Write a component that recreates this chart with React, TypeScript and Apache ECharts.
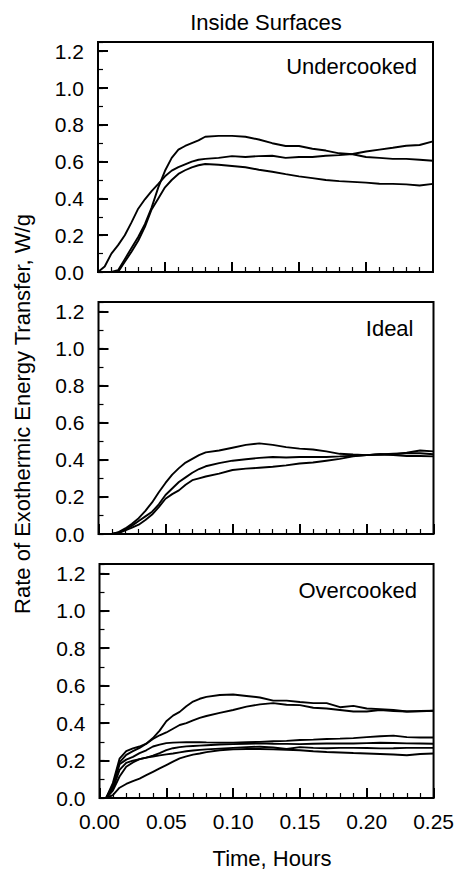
import React, { useEffect, useRef } from "react";
import * as echarts from "echarts";

// Time axis (hours) shared by all curves
const T = [0, 0.005, 0.01, 0.015, 0.02, 0.025, 0.03, 0.035, 0.04, 0.045, 0.05, 0.055, 0.06, 0.065, 0.07, 0.075, 0.08, 0.09, 0.1, 0.11, 0.12, 0.13, 0.14, 0.15, 0.16, 0.17, 0.18, 0.19, 0.2, 0.21, 0.22, 0.23, 0.24, 0.25];

// Undercooked
const U1 = [0, 0, 0, 0.01, 0.07, 0.13, 0.19, 0.26, 0.35, 0.46, 0.55, 0.62, 0.665, 0.685, 0.7, 0.715, 0.735, 0.74, 0.74, 0.735, 0.72, 0.7, 0.685, 0.685, 0.67, 0.66, 0.645, 0.64, 0.625, 0.62, 0.615, 0.615, 0.61, 0.605];
const U2 = [0, 0.03, 0.1, 0.146, 0.2, 0.27, 0.344, 0.395, 0.44, 0.479, 0.52, 0.551, 0.57, 0.585, 0.6, 0.61, 0.615, 0.62, 0.63, 0.625, 0.63, 0.632, 0.62, 0.625, 0.625, 0.632, 0.635, 0.641, 0.655, 0.665, 0.675, 0.686, 0.69, 0.71];
const U3 = [0, 0, 0, 0, 0.056, 0.11, 0.17, 0.245, 0.34, 0.4, 0.46, 0.5, 0.533, 0.553, 0.569, 0.58, 0.587, 0.583, 0.576, 0.569, 0.556, 0.545, 0.532, 0.52, 0.51, 0.5, 0.494, 0.49, 0.486, 0.48, 0.479, 0.476, 0.47, 0.479];

// Ideal
const I1 = [0, 0, 0, 0.01, 0.03, 0.055, 0.085, 0.125, 0.17, 0.225, 0.275, 0.32, 0.355, 0.385, 0.405, 0.425, 0.44, 0.45, 0.465, 0.48, 0.488, 0.48, 0.468, 0.46, 0.455, 0.445, 0.432, 0.428, 0.425, 0.43, 0.428, 0.438, 0.45, 0.445];
const I2 = [0, 0, 0, 0.008, 0.025, 0.045, 0.07, 0.095, 0.12, 0.16, 0.21, 0.245, 0.28, 0.305, 0.33, 0.35, 0.365, 0.382, 0.395, 0.403, 0.41, 0.415, 0.412, 0.415, 0.415, 0.415, 0.418, 0.422, 0.425, 0.43, 0.425, 0.42, 0.42, 0.418];
const I3 = [0, 0, 0, 0.005, 0.02, 0.035, 0.05, 0.075, 0.105, 0.145, 0.19, 0.215, 0.235, 0.265, 0.29, 0.3, 0.31, 0.325, 0.345, 0.352, 0.357, 0.362, 0.37, 0.38, 0.385, 0.395, 0.405, 0.418, 0.425, 0.428, 0.432, 0.435, 0.435, 0.43];

// Overcooked
const O1 = [0, 0, 0.08, 0.21, 0.25, 0.265, 0.275, 0.29, 0.32, 0.36, 0.41, 0.44, 0.46, 0.49, 0.515, 0.53, 0.54, 0.55, 0.553, 0.545, 0.537, 0.52, 0.52, 0.513, 0.507, 0.507, 0.485, 0.492, 0.478, 0.475, 0.47, 0.462, 0.465, 0.466];
const O2 = [0, 0, 0.07, 0.19, 0.23, 0.25, 0.268, 0.29, 0.315, 0.335, 0.35, 0.37, 0.39, 0.4, 0.415, 0.428, 0.438, 0.455, 0.47, 0.488, 0.5, 0.507, 0.498, 0.496, 0.482, 0.478, 0.47, 0.462, 0.462, 0.47, 0.465, 0.462, 0.463, 0.466];
const L1 = [0, 0, 0.06, 0.18, 0.205, 0.22, 0.24, 0.255, 0.275, 0.285, 0.293, 0.296, 0.297, 0.298, 0.298, 0.298, 0.297, 0.296, 0.296, 0.298, 0.3, 0.303, 0.305, 0.31, 0.312, 0.315, 0.317, 0.32, 0.325, 0.33, 0.333, 0.325, 0.323, 0.323];
const L2 = [0, 0, 0.05, 0.15, 0.188, 0.2, 0.208, 0.216, 0.226, 0.24, 0.256, 0.266, 0.272, 0.276, 0.278, 0.28, 0.282, 0.286, 0.288, 0.29, 0.292, 0.29, 0.289, 0.288, 0.29, 0.291, 0.292, 0.291, 0.293, 0.295, 0.294, 0.292, 0.291, 0.29];
const L3 = [0, 0, 0.04, 0.115, 0.167, 0.19, 0.208, 0.216, 0.222, 0.228, 0.233, 0.238, 0.244, 0.25, 0.254, 0.257, 0.26, 0.264, 0.268, 0.272, 0.274, 0.27, 0.262, 0.272, 0.268, 0.266, 0.268, 0.268, 0.267, 0.265, 0.266, 0.268, 0.268, 0.268];
const L4 = [0, 0, 0.015, 0.055, 0.075, 0.09, 0.104, 0.122, 0.14, 0.158, 0.176, 0.194, 0.212, 0.222, 0.232, 0.238, 0.245, 0.255, 0.26, 0.262, 0.262, 0.26, 0.258, 0.255, 0.25, 0.246, 0.243, 0.24, 0.238, 0.235, 0.232, 0.228, 0.235, 0.238];

const PANEL_LABELS = ["Undercooked", "Ideal", "Overcooked"];
const PANEL_SERIES = [
  [U1, U2, U3],
  [I1, I2, I3],
  [O1, O2, L1, L2, L3, L4],
];

const TITLE = "Inside Surfaces";
const X_TITLE = "Time, Hours";
const Y_TITLE = "Rate of Exothermic Energy Transfer, W/g";

const FONT = "'Liberation Sans', Arial, Helvetica, sans-serif";

const GRIDS = [
  { left: 98, top: 42, width: 335, height: 230 },
  { left: 98.5, top: 302, width: 335, height: 232 },
  { left: 99.5, top: 564, width: 335, height: 234 },
];
const LABEL_POS = [
  { x: 417, y: 66 },
  { x: 413.5, y: 328 },
  { x: 417, y: 590 },
];

export default function App() {
  const ref = useRef<HTMLDivElement>(null);

  useEffect(() => {
    if (!ref.current) return;
    const chart = echarts.init(ref.current, undefined, { renderer: "svg" });

    const grid = GRIDS.map((g) => ({
      ...g,
      show: true,
      borderColor: "#000",
      borderWidth: 2,
      backgroundColor: "transparent",
      containLabel: false,
    }));

    const xAxis = GRIDS.map((_, i) => ({
      type: "value",
      gridIndex: i,
      min: 0,
      max: 0.25,
      interval: 0.05,
      axisLine: { show: false },
      axisTick: { show: true, inside: true, length: 10, lineStyle: { color: "#000", width: 2 } },
      minorTick: { show: true, splitNumber: 5, length: 5, lineStyle: { color: "#000", width: 1.2 } },
      splitLine: { show: false },
      minorSplitLine: { show: false },
      axisLabel: {
        show: i === 2,
        formatter: (v: number) => v.toFixed(2),
        color: "#000",
        fontSize: 21,
        fontFamily: FONT,
        margin: 13,
      },
    }));

    const yAxis: any[] = [];
    GRIDS.forEach((_, i) => {
      yAxis.push({
        type: "value",
        gridIndex: i,
        min: 0,
        max: 1.25,
        interval: 0.1,
        position: "left",
        axisLine: { show: false },
        axisTick: { show: true, inside: true, length: 5, lineStyle: { color: "#000", width: 1.2 } },
        splitLine: { show: false },
        axisLabel: {
          show: true,
          formatter: (v: number) => {
            const k = Math.round(v * 10);
            return k % 2 === 0 && v <= 1.2001 ? (k / 10).toFixed(1) : "";
          },
          color: "#000",
          fontSize: 21,
          fontFamily: FONT,
          margin: 14,
        },
      });
      yAxis.push({
        type: "value",
        gridIndex: i,
        min: 0,
        max: 1.25,
        interval: 0.2,
        position: "left",
        axisLine: { show: false },
        axisTick: { show: true, inside: true, length: 10, lineStyle: { color: "#000", width: 2 } },
        splitLine: { show: false },
        axisLabel: { show: false },
      });
    });

    const series: any[] = [];
    PANEL_SERIES.forEach((list, i) => {
      list.forEach((vals, j) => {
        series.push({
          type: "line",
          name: `${PANEL_LABELS[i]} ${j + 1}`,
          xAxisIndex: i,
          yAxisIndex: 2 * i,
          data: T.map((t, k) => [t, vals[k]]),
          showSymbol: false,
          symbol: "none",
          smooth: false,
          silent: true,
          lineStyle: { color: "#000", width: 1.9 },
          z: 3,
        });
      });
    });

    const graphic: any[] = [
      {
        type: "text",
        x: 266,
        y: 22,
        style: { text: TITLE, fill: "#000", font: `22px ${FONT}`, align: "center", verticalAlign: "middle" },
      },
      {
        type: "text",
        x: 272,
        y: 858,
        style: { text: X_TITLE, fill: "#000", font: `22px ${FONT}`, align: "center", verticalAlign: "middle" },
      },
      {
        type: "text",
        x: 22,
        y: 414,
        rotation: Math.PI / 2,
        style: { text: Y_TITLE, fill: "#000", font: `22px ${FONT}`, align: "center", verticalAlign: "middle" },
      },
    ];
    PANEL_LABELS.forEach((lab, i) => {
      graphic.push({
        type: "text",
        x: LABEL_POS[i].x,
        y: LABEL_POS[i].y,
        style: { text: lab, fill: "#000", font: `22px ${FONT}`, align: "right", verticalAlign: "middle" },
      });
    });

    chart.setOption({
      animation: false,
      backgroundColor: "#fff",
      grid,
      xAxis,
      yAxis,
      series,
      graphic,
    });

    return () => chart.dispose();
  }, []);

  return (
    <div
      ref={ref}
      style={{ position: "absolute", left: 0, top: 0, width: 457, height: 869 }}
    />
  );
}
